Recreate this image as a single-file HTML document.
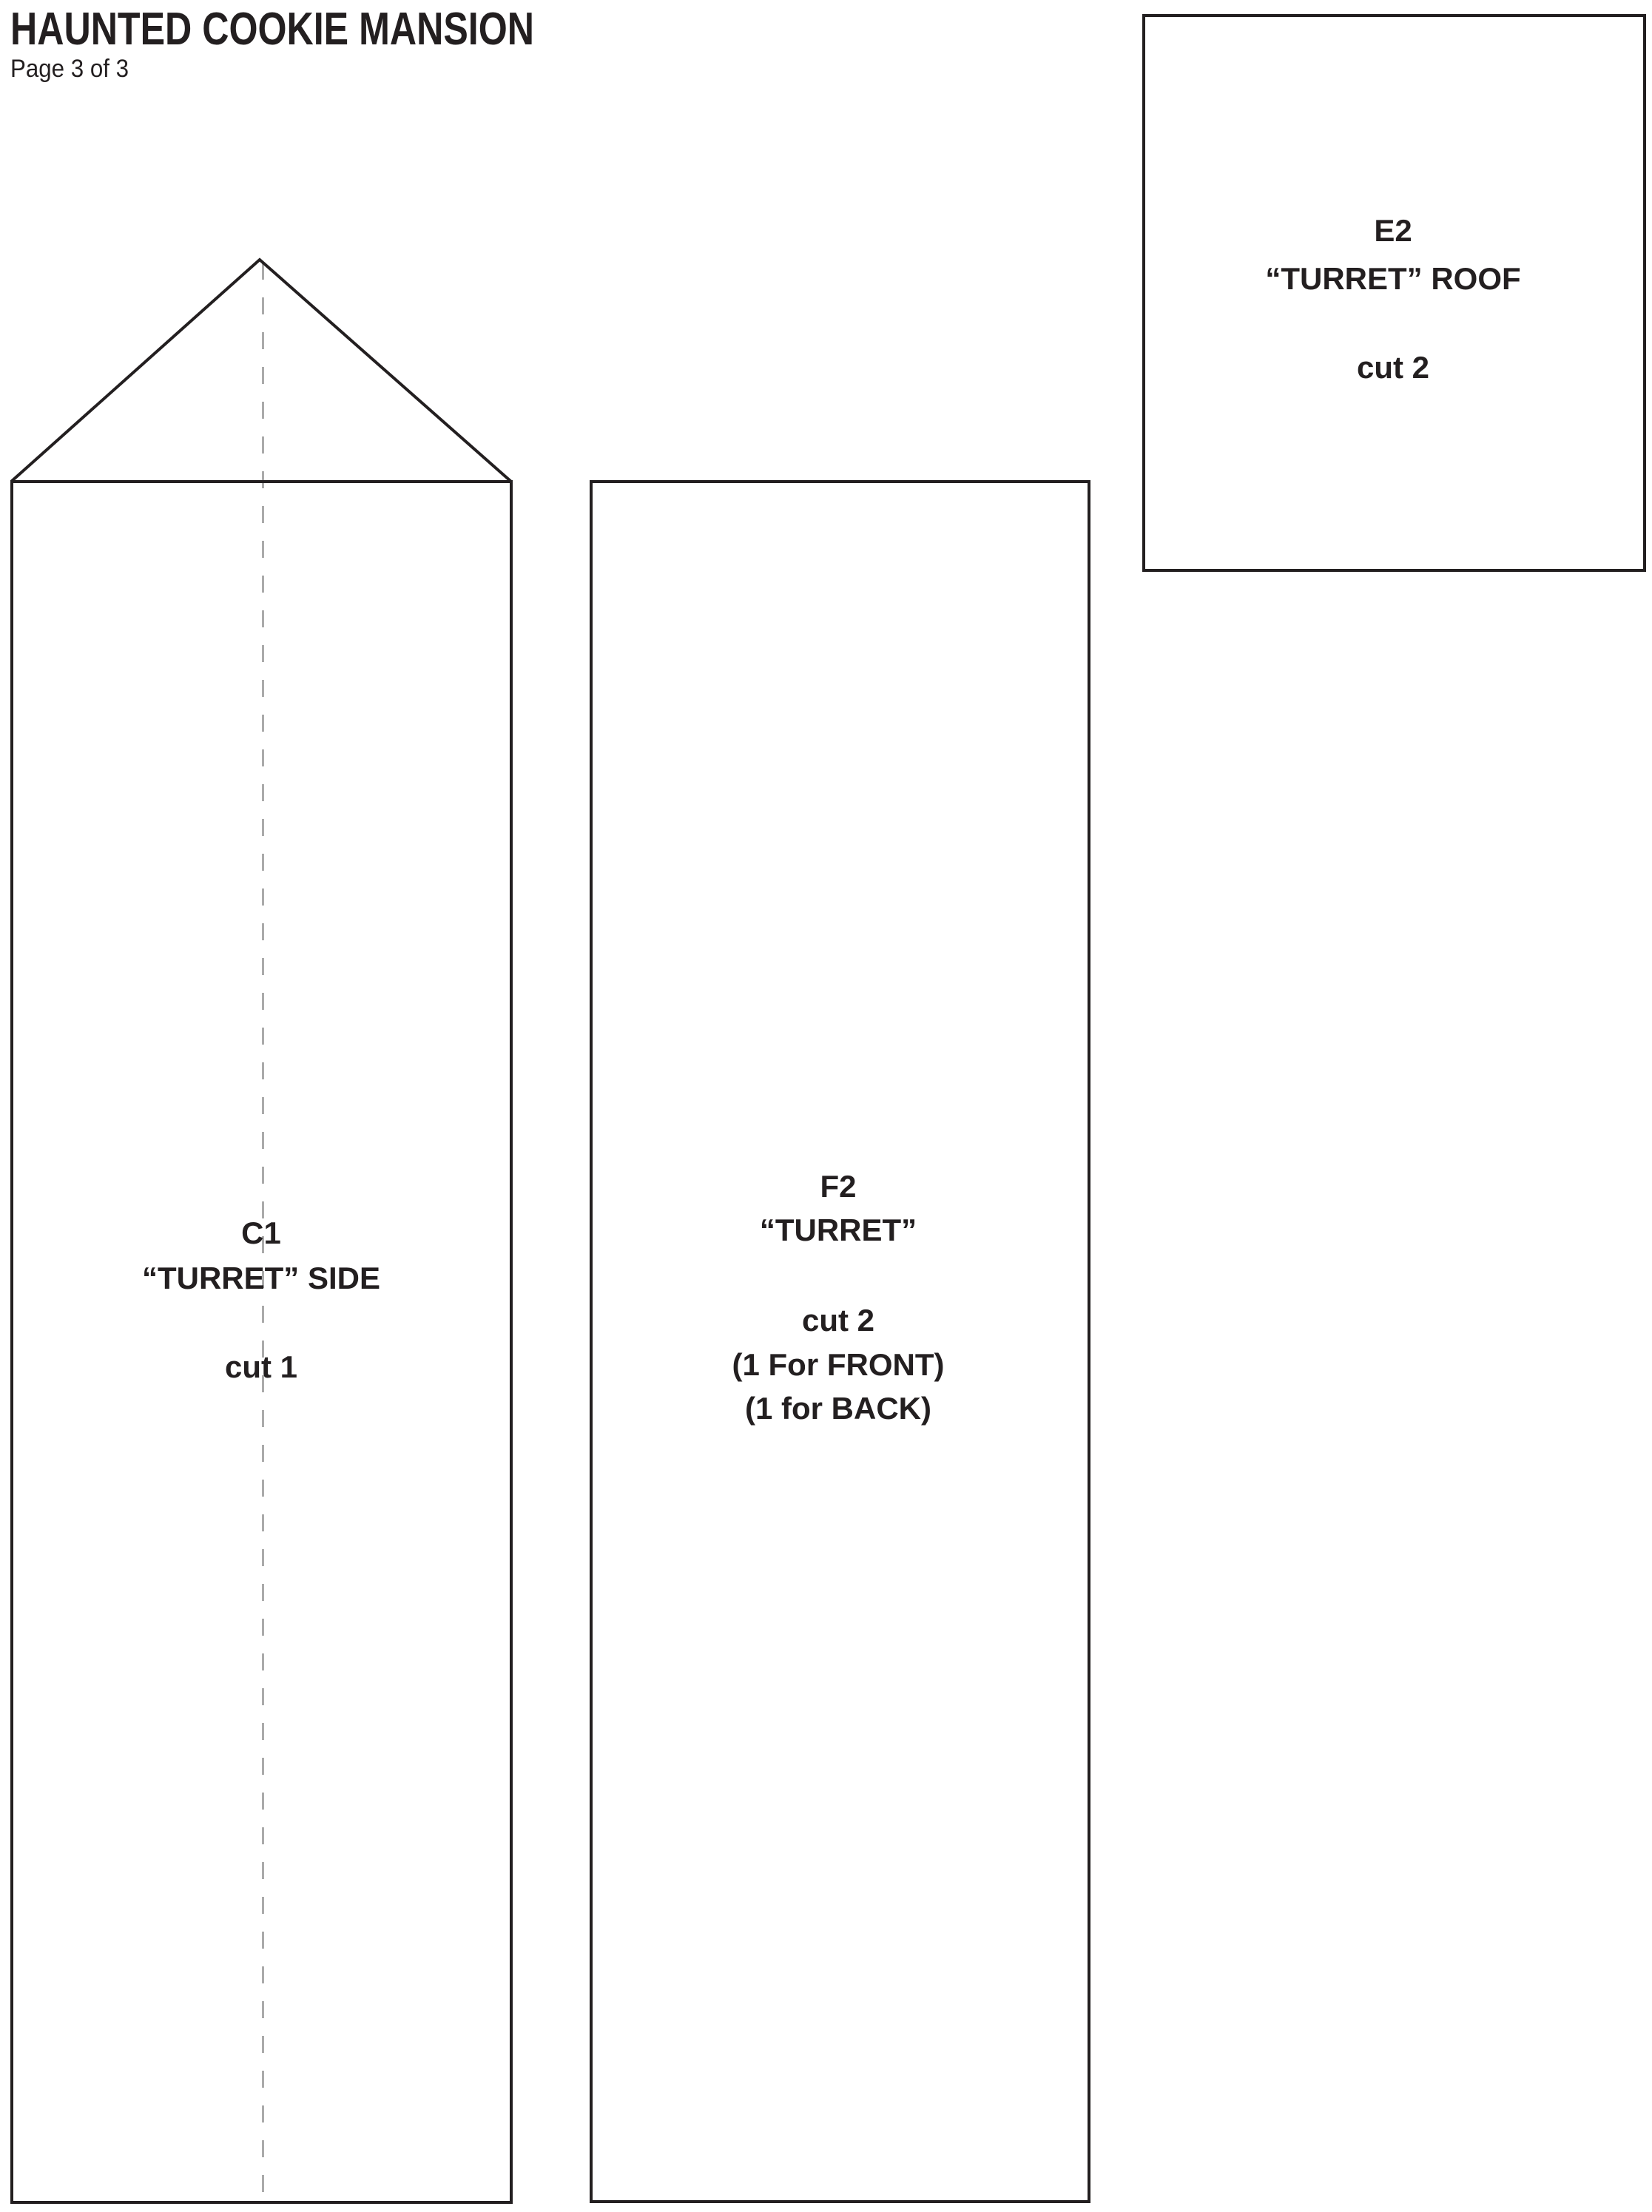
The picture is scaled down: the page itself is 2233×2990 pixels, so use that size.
<!DOCTYPE html>
<html><head><meta charset="utf-8"><style>
html,body{margin:0;padding:0;background:#fff;}
svg{display:block;}
text{font-family:"Liberation Sans",sans-serif;fill:#231f20;}
.b{font-weight:bold;font-size:42px;}
</style></head><body>
<svg width="2233" height="2990" viewBox="0 0 2233 2990" xmlns="http://www.w3.org/2000/svg">
<rect width="2233" height="2990" fill="#fff"/>
<text x="14" y="60" font-size="62" font-weight="bold" textLength="708" lengthAdjust="spacingAndGlyphs">HAUNTED COOKIE MANSION</text>
<text x="14" y="104" font-size="34" textLength="160" lengthAdjust="spacingAndGlyphs">Page 3 of 3</text>
<line x1="355.5" y1="355" x2="355.5" y2="2975" stroke="#aaa" stroke-width="3" stroke-dasharray="23,24"/>
<polyline points="15,651 351,351 691,651" fill="none" stroke="#231f20" stroke-width="4" stroke-linejoin="miter"/>
<rect x="16" y="651" width="675" height="2326" fill="none" stroke="#231f20" stroke-width="4"/>
<rect x="799" y="651" width="673" height="2325" fill="none" stroke="#231f20" stroke-width="4"/>
<rect x="1546" y="21" width="677" height="750" fill="none" stroke="#231f20" stroke-width="4"/>
<g text-anchor="middle">
<text class="b" x="353" y="1681">C1</text>
<text class="b" x="353" y="1742">“TURRET” SIDE</text>
<text class="b" x="353" y="1862">cut 1</text>
<text class="b" x="1133" y="1618">F2</text>
<text class="b" x="1133" y="1677">“TURRET”</text>
<text class="b" x="1133" y="1799">cut 2</text>
<text class="b" x="1133" y="1859">(1 For FRONT)</text>
<text class="b" x="1133" y="1918">(1 for BACK)</text>
<text class="b" x="1883" y="326">E2</text>
<text class="b" x="1883" y="391">“TURRET” ROOF</text>
<text class="b" x="1883" y="511">cut 2</text>
</g>
</svg>
</body></html>
